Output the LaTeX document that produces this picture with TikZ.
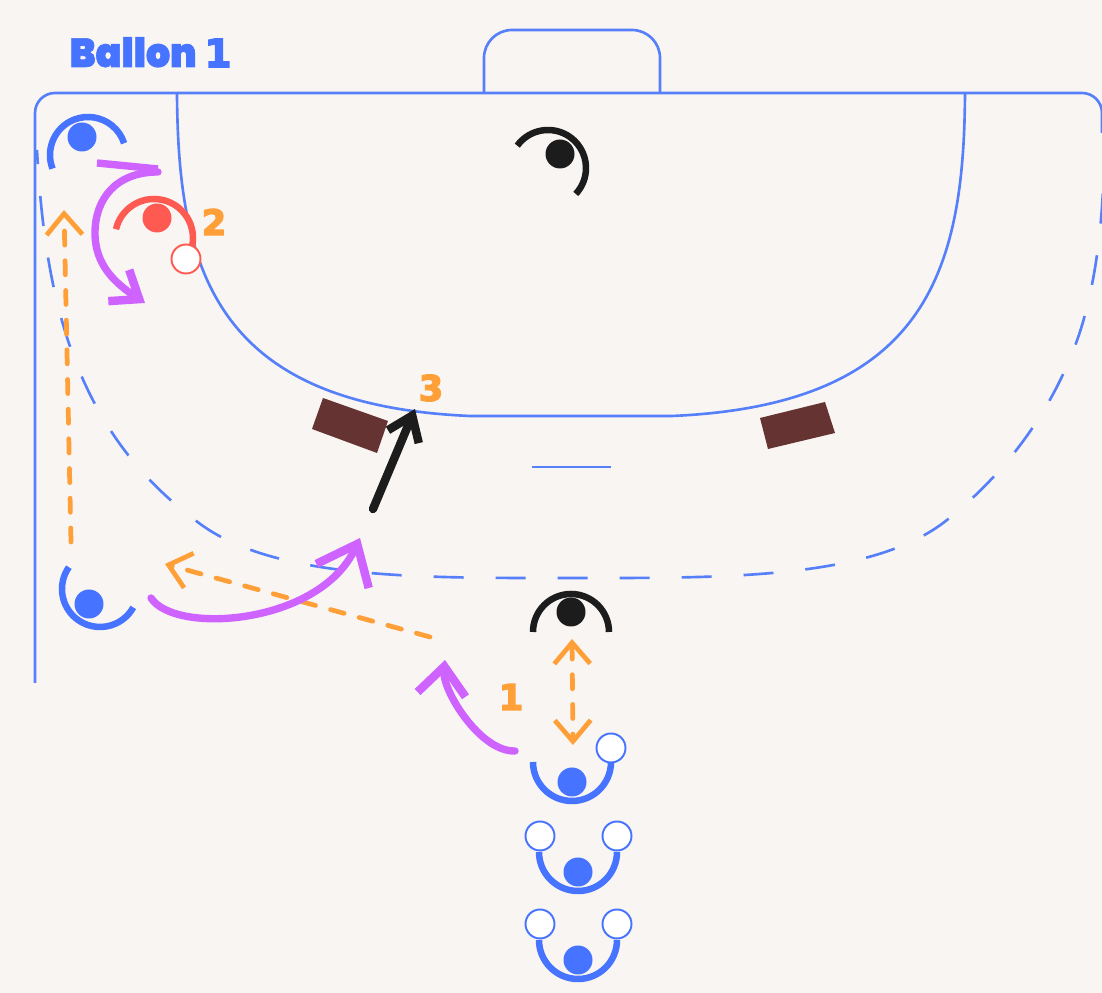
\documentclass[tikz,border=0pt]{standalone}
\usepackage{fontspec}
\usetikzlibrary{arrows.meta}
\newfontfamily\labelfont[FakeStretch=0.94,FakeBold=1.5]{Poppins Black}
\newfontfamily\numeralfont[FakeBold=4]{DejaVu Sans Bold}
\definecolor{paper}{HTML}{F9F5F2}
\definecolor{courtblue}{HTML}{5580FA}
\definecolor{teamblue}{HTML}{4673FF}
\definecolor{teamred}{HTML}{FF5A52}
\definecolor{inkblack}{HTML}{1C1C1C}
\definecolor{runpurple}{HTML}{CF63FF}
\definecolor{passorange}{HTML}{FF9F38}
\definecolor{blockbrown}{HTML}{663333}
\tikzset{
  court/.style={courtblue,line width=0.75pt},
  zone/.style={courtblue,line width=0.75pt,dash pattern=on 8.54pt off 9.1pt,dash phase=4.5pt},
  stance/.style={line width=1.85pt},
  dot/.style={circle,fill=#1,inner sep=0pt,minimum size=0.29cm},
  ball/.style={circle,draw=#1,fill=white,line width=0.55pt,inner sep=0pt,minimum size=0.29cm},
  runarrow/.style={runpurple,line width=2.1pt,line cap=round,-{Straight Barb[length=8pt,width=13.7pt,line width=2.4pt,line cap=butt]}},
  shotarrow/.style={inkblack,line width=2.4pt,line cap=round,-{Straight Barb[length=6.5pt,width=9.5pt,line width=2.4pt,line cap=butt]}},
  passarrow/.style={passorange,line width=1.35pt,line cap=round,dash pattern=on 4pt off 4.45pt,-{Straight Barb[length=6pt,width=10.2pt,line width=1.35pt,line cap=butt]}},
  numeral/.style={passorange,font=\numeralfont\fontsize{10}{12}\selectfont}
}
\begin{document}
\begin{tikzpicture}
  \useasboundingbox (0,0) rectangle (11.02,9.93);
  \fill[paper] (0,0) rectangle (11.02,9.93);
  % court
  \draw[court,rounded corners=0.2cm] (0.35,3.10) -- (0.35,9.00) -- (11.02,9.00) -- (11.02,8.60);
  \draw[court,rounded corners=0.28cm] (4.84,9.00) -- (4.84,9.63) -- (6.60,9.63) -- (6.60,9.00);
  \draw[court] (1.77,9.00) .. controls (1.78,7.23) and (2.15,5.88) .. (4.70,5.77) -- (6.72,5.77)
    .. controls (9.27,5.88) and (9.64,7.23) .. (9.65,9.00);
  \draw[zone] (0.37,8.43) .. controls (0.45,6.93) and (0.75,5.63) .. (1.95,4.73)
    .. controls (2.70,4.13) and (4.20,4.15) .. (5.71,4.15)
    .. controls (7.22,4.15) and (8.72,4.13) .. (9.47,4.73)
    .. controls (10.10,5.23) and (10.60,5.93) .. (10.83,6.71)
    .. controls (10.92,7.03) and (11.00,7.43) .. (11.03,8.03);
  \draw[court] (5.32,5.26) -- (6.11,5.26);
  \fill[blockbrown] (3.23,5.95) -- (3.88,5.72) -- (3.77,5.40) -- (3.12,5.64) -- cycle;
  \fill[blockbrown] (7.60,5.75) -- (8.25,5.91) -- (8.35,5.60) -- (7.68,5.44) -- cycle;
  % dashed passes
  \draw[passarrow] (0.71,4.51) -- (0.64,7.83);
  \draw[passarrow] (4.30,3.56) -- (1.65,4.29);
  \draw[passarrow,{Straight Barb[length=6pt,width=10.2pt,line width=1.35pt,line cap=butt]}-{Straight Barb[length=6pt,width=10.2pt,line width=1.35pt,line cap=butt]}] (5.72,3.54) -- (5.73,2.48);
  % runs
  \draw[runarrow] (5.15,2.42) .. controls (4.80,2.41) and (4.42,3.03) .. (4.45,3.33);
  \draw[runarrow,-{Straight Barb[length=10pt,width=16.4pt,line width=2.4pt,line cap=butt]}] (1.51,3.95) .. controls (1.75,3.58) and (3.20,3.68) .. (3.60,4.55);
  \draw[runarrow,-{Straight Barb[length=7pt,width=10.7pt,line width=2.4pt,line cap=butt]}] (1.58,8.21) .. controls (1.15,8.21) and (0.95,7.93) .. (0.95,7.60)
    .. controls (0.95,7.28) and (1.15,7.10) .. (1.45,6.90);
  \draw[runpurple,line width=2.1pt] (0.97,8.30) -- (1.58,8.24);
  \draw[shotarrow] (3.73,4.84) -- (4.15,5.84);
  % players
  \draw[stance,teamblue] (0.88,8.38) ++(201:0.38) arc (201:18:0.38);
  \node[dot=teamblue] (wingtop) at (0.82,8.56) {};
  \draw[stance,teamred] (1.54,7.55) ++(167:0.39) arc (167:-13:0.39);
  \node[dot=teamred] (guard) at (1.57,7.75) {};
  \node[ball=teamred] (guardball) at (1.86,7.34) {};
  \draw[stance,inkblack] (5.48,8.25) ++(144:0.38) arc (144:-43:0.38);
  \node[dot=inkblack] (keeper) at (5.60,8.39) {};
  \draw[stance,teamblue] (1.00,4.04) ++(145:0.38) arc (145:331:0.38);
  \node[dot=teamblue] (wingleft) at (0.89,3.89) {};
  \draw[stance,inkblack] (5.71,3.61) ++(180:0.38) arc (180:0:0.38);
  \node[dot=inkblack] (defender) at (5.71,3.81) {};
  \draw[stance,teamblue] (5.72,2.31) ++(180:0.39) arc (180:360:0.39);
  \node[dot=teamblue] (back) at (5.72,2.11) {};
  \node[ball=teamblue] (backball) at (6.11,2.45) {};
  \draw[stance,teamblue] (5.78,1.41) ++(180:0.39) arc (180:360:0.39);
  \node[dot=teamblue] (queuea) at (5.78,1.21) {};
  \node[ball=teamblue] (queuealeft) at (5.40,1.57) {};
  \node[ball=teamblue] (queuearight) at (6.17,1.57) {};
  \draw[stance,teamblue] (5.78,0.53) ++(180:0.39) arc (180:360:0.39);
  \node[dot=teamblue] (queueb) at (5.78,0.33) {};
  \node[ball=teamblue] (queuebleft) at (5.40,0.69) {};
  \node[ball=teamblue] (queuebright) at (6.17,0.69) {};
  % labels
  \node[teamblue,font=\labelfont\fontsize{11.5}{13}\selectfont,anchor=base west,inner sep=0pt] (title) at (0.69,9.26) {Ballon\hspace{0.08cm}{\numeralfont\fontsize{11}{13}\selectfont 1}};
  \node[numeral] (stepa) at (5.11,2.96) {1};
  \node[numeral] (stepb) at (2.14,7.71) {2};
  \node[numeral] (stepc) at (4.31,6.05) {3};
\end{tikzpicture}
\end{document}
